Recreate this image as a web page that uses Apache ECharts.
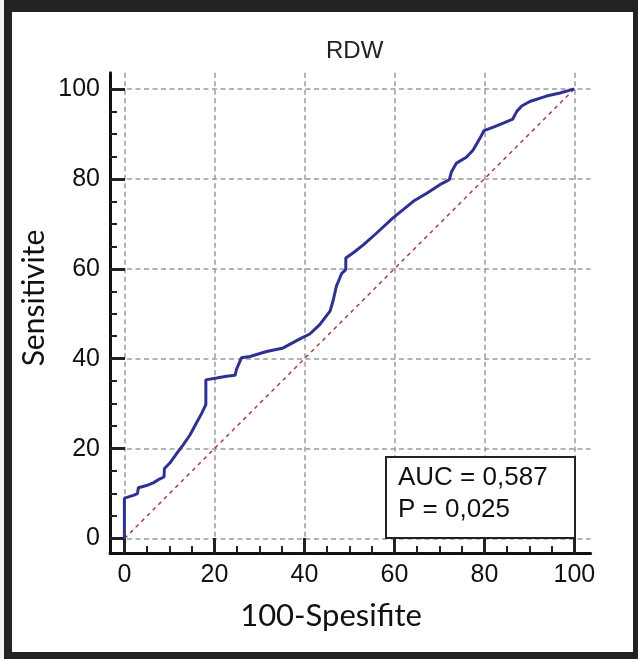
<!DOCTYPE html>
<html><head><meta charset="utf-8">
<script src="https://cdn.jsdelivr.net/npm/echarts@6/dist/echarts.min.js"></script>
<style>html,body{margin:0;padding:0;background:#fff}#c{width:638px;height:659px}</style>
</head><body><div id="c"></div>
<script>
// ---- data ----
const titleText = 'RDW';
const xName = '100-Spesifite';
const yName = 'Sensitivite';
const tickValues = [0, 20, 40, 60, 80, 100];
const minorTickValues = [5, 10, 15, 25, 30, 35, 45, 50, 55, 65, 70, 75, 85, 90, 95];
const rocX = [0, 0, 2.0, 2.9, 3.1, 4.9, 6.4, 7.9, 8.8, 8.9, 10.1, 11.6, 13.1, 14.6, 16.0, 17.2, 18.1, 18.1, 20.5, 22.7, 24.6, 24.9, 26.0, 27.9, 31.6, 35.3, 39.0, 41.2, 43.4, 45.7, 46.4, 47.1, 48.3, 49.2, 49.2, 50.8, 53.1, 56.0, 59.7, 64.2, 67.2, 70.1, 72.2, 72.7, 73.8, 76.0, 77.5, 79.0, 79.9, 82.0, 84.2, 86.3, 87.2, 88.3, 90.1, 93.8, 96.8, 100];
const rocY = [0, 9.0, 9.6, 10.0, 11.3, 11.8, 12.4, 13.3, 13.7, 15.6, 16.8, 18.9, 20.9, 23.1, 25.7, 27.9, 29.8, 35.3, 35.7, 36.1, 36.3, 37.6, 40.2, 40.5, 41.6, 42.4, 44.4, 45.5, 47.6, 50.6, 53.0, 56.1, 59.0, 59.8, 62.4, 63.5, 65.3, 67.9, 71.3, 75.0, 76.8, 78.7, 79.8, 81.6, 83.5, 84.8, 86.4, 89.0, 90.7, 91.5, 92.4, 93.3, 95.0, 96.2, 97.2, 98.4, 99.1, 100];
const refX = [0, 100];
const refY = [0, 100];
const statLines = ['AUC = 0,587', 'P = 0,025'];

// ---- chart ----
const chart = echarts.init(document.getElementById('c'), null, {renderer: 'canvas'});
const AX_MIN = -3.2, AX_MAX = 103.6;
const labelFont = 'Liberation Sans';
function mainAxis(pos) {
  return {
    type: 'value', min: AX_MIN, max: AX_MAX, position: pos,
    axisLine: {show: true, onZero: false, lineStyle: {color: '#111', width: 3}},
    axisTick: {show: false, customValues: tickValues},
    axisLabel: {show: true, customValues: tickValues, fontSize: 25, fontFamily: labelFont, color: '#111', margin: 10},
    splitLine: {show: true, lineStyle: {color: '#9a9a9a', width: 1.5, type: [5, 3.5]}}
  };
}
function tickAxis(pos, values, len, w) {
  return {
    type: 'value', min: AX_MIN, max: AX_MAX, position: pos,
    axisLine: {show: false, onZero: false},
    axisTick: {show: true, inside: true, length: len, customValues: values, lineStyle: {color: '#222', width: w}},
    axisLabel: {show: false},
    splitLine: {show: false}
  };
}
const option = {
  animation: false,
  backgroundColor: '#222',
  title: {
    text: titleText, left: 321, top: 34,
    textStyle: {fontFamily: 'Liberation Sans', fontSize: 24, fontWeight: 'normal', color: '#222'}
  },
  grid: {left: 110, right: 47.4, top: 72.7, bottom: 106, containLabel: false},
  xAxis: [mainAxis('bottom'), tickAxis('bottom', minorTickValues, 7, 2), tickAxis('bottom', tickValues, 15, 3)],
  yAxis: [mainAxis('left'), tickAxis('left', minorTickValues, 7, 2), tickAxis('left', tickValues, 15, 3)],
  series: [
    {
      type: 'line', name: 'Reference', xAxisIndex: 0, yAxisIndex: 0,
      data: refX.map((x, i) => [x, refY[i]]),
      symbol: 'none', z: 3,
      lineStyle: {color: '#a8403f', width: 1.5, type: [4, 4]}
    },
    {
      type: 'line', name: titleText, xAxisIndex: 0, yAxisIndex: 0,
      data: rocX.map((x, i) => [x, rocY[i]]),
      symbol: 'none', z: 4,
      lineStyle: {color: '#2e3192', width: 3}
    }
  ],
  graphic: [
    {type: 'rect', z: -100, silent: true, shape: {x: 12, y: 12, width: 621, height: 640}, style: {fill: '#fff'}},
    {type: 'rect', z: -100, silent: true, shape: {x: 0, y: 0, width: 4, height: 659}, style: {fill: '#f2f2f2'}},
    {type: 'text', z: 10, x: 34, y: 298, rotation: Math.PI / 2,
     style: {text: yName, font: '30px Lato', fill: '#111', align: 'center', verticalAlign: 'middle'}},
    {type: 'text', z: 10, x: 331, y: 616,
     style: {text: xName, font: '31px Lato', fill: '#111', align: 'center', verticalAlign: 'middle'}},
    {type: 'rect', z: 20, shape: {x: 386, y: 457, width: 189, height: 81},
     style: {fill: '#fff', stroke: '#222', lineWidth: 2}},
    {type: 'text', z: 21, x: 398, y: 478,
     style: {text: statLines[0], font: '26px "Liberation Sans"', fill: '#111', align: 'left', verticalAlign: 'middle'}},
    {type: 'text', z: 21, x: 398, y: 510,
     style: {text: statLines[1], font: '26px "Liberation Sans"', fill: '#111', align: 'left', verticalAlign: 'middle'}}
  ]
};
chart.setOption(option);
</script>
</body></html>
